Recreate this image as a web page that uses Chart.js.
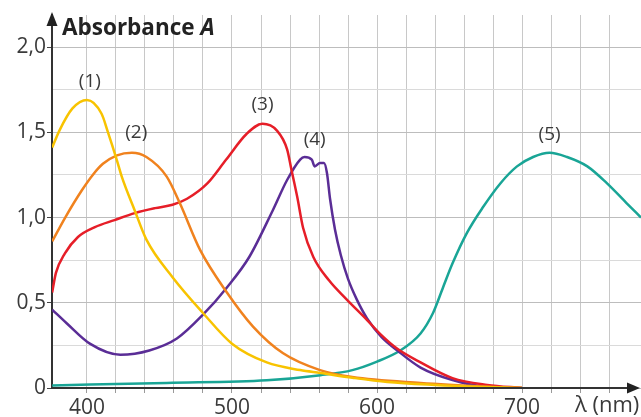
<!DOCTYPE html>
<html><head><meta charset="utf-8">
<script src="https://cdn.jsdelivr.net/npm/chart.js@4"></script>
<style>html,body{margin:0;padding:0;background:#fff}canvas{display:block}</style>
</head><body>
<canvas id="c" width="641" height="417"></canvas>
<script>
// ---- data (wavelength in nm, absorbance) ----
const wl1  = [376, 381, 390, 400, 410, 414.5, 420.5, 424, 433, 441, 459, 480, 500, 524, 547, 561, 583, 607, 640, 676, 700];
const abs1 = [1.41, 1.51, 1.64, 1.69, 1.61, 1.50, 1.34, 1.24, 1.04, 0.87, 0.65, 0.44, 0.26, 0.15, 0.105, 0.088, 0.06, 0.035, 0.018, 0.006, 0];

const wl2  = [376, 385, 396.5, 404, 411, 420.7, 431, 441, 455, 464, 478, 496.5, 514.5, 535, 560.7, 583, 630, 676, 700];
const abs2 = [0.86, 1.00, 1.16, 1.25, 1.315, 1.365, 1.38, 1.355, 1.24, 1.085, 0.81, 0.56, 0.36, 0.205, 0.105, 0.065, 0.03, 0.008, 0];

const wl3  = [376, 378.6, 384.8, 393.8, 405.5, 419, 433, 447, 459, 469, 483, 496, 510, 521, 531, 538, 541, 545, 549, 556, 567, 579, 593, 603, 614, 630, 652, 676, 700];
const abs3 = [0.56, 0.675, 0.79, 0.886, 0.944, 0.985, 1.026, 1.055, 1.075, 1.11, 1.20, 1.34, 1.49, 1.55, 1.51, 1.40, 1.28, 1.12, 0.94, 0.77, 0.63, 0.52, 0.40, 0.31, 0.23, 0.15, 0.058, 0.018, 0];

const wl4  = [376, 386, 402, 423, 443, 462, 480, 496.5, 512, 528, 538, 547, 550, 555, 557, 560.7, 563.4, 565.5, 567.6, 571, 575, 580, 586, 593, 603, 614, 630, 652, 676, 700];
const abs4 = [0.46, 0.38, 0.26, 0.195, 0.22, 0.29, 0.43, 0.59, 0.77, 1.04, 1.22, 1.34, 1.355, 1.34, 1.30, 1.32, 1.32, 1.26, 1.11, 0.93, 0.78, 0.64, 0.52, 0.41, 0.30, 0.22, 0.12, 0.047, 0.006, 0];

const wl5  = [376, 455, 524, 561, 583, 600, 616, 630, 638.6, 645.5, 652, 662, 673, 685, 696.5, 707.6, 719, 731, 745, 758.6, 772, 782];
const abs5 = [0.015, 0.03, 0.045, 0.075, 0.105, 0.155, 0.22, 0.32, 0.44, 0.59, 0.73, 0.91, 1.06, 1.20, 1.30, 1.355, 1.38, 1.355, 1.30, 1.20, 1.085, 1.00];

const seriesColors = ['#f8c300', '#f0821e', '#e61e28', '#5a2d96', '#19a596'];

const curveLabels = ['(1)', '(2)', '(3)', '(4)', '(5)'];
const labelWl  = [402, 434, 521, 557, 719];
const labelAbs = [1.795, 1.50, 1.66, 1.455, 1.484];

const xTickValues = [400, 500, 600, 700];
const yTickValues = [0, 0.5, 1, 1.5, 2];
const yTickTexts  = ['0', '0,5', '1,0', '1,5', '2,0'];

const yTitle = 'Absorbance ';
const yTitleItalic = 'A';
const xTitle = 'λ (nm)';

// ---- build datasets ----
const wls = [wl1, wl2, wl3, wl4, wl5];
const abss = [abs1, abs2, abs3, abs4, abs5];
const datasets = wls.map((w, i) => ({
  data: w.map((x, k) => ({x: x, y: abss[i][k]})),
  borderColor: seriesColors[i],
  borderWidth: 2.5,
  pointRadius: 0,
  fill: false,
  cubicInterpolationMode: 'monotone'
}));

const FONT = 'Open Sans';
const TXT = '#3a3a3a';

const decor = {
  id: 'decor',
  afterDraw(chart) {
    const {ctx, chartArea} = chart;
    const xs = chart.scales.x, ys = chart.scales.y;
    ctx.save();
    // x axis line and arrow
    ctx.strokeStyle = '#333'; ctx.lineWidth = 2;
    ctx.beginPath(); ctx.moveTo(chartArea.left, chartArea.bottom); ctx.lineTo(630, chartArea.bottom); ctx.stroke();
    ctx.fillStyle = '#222';
    ctx.beginPath(); ctx.moveTo(627, chartArea.bottom - 5.5); ctx.lineTo(640, chartArea.bottom); ctx.lineTo(627, chartArea.bottom + 5.5); ctx.closePath(); ctx.fill();
    // y arrow
    ctx.beginPath(); ctx.moveTo(chartArea.left - 5.5, 26); ctx.lineTo(chartArea.left, 12); ctx.lineTo(chartArea.left + 5.5, 26); ctx.closePath(); ctx.fill();
    // y title
    ctx.fillStyle = '#222';
    ctx.textBaseline = 'alphabetic'; ctx.textAlign = 'left';
    ctx.font = 'bold 22.5px "' + FONT + '"';
    ctx.fillText(yTitle, 62, 35);
    const w = ctx.measureText(yTitle).width;
    ctx.font = 'italic bold 22.5px "' + FONT + '"';
    ctx.fillText(yTitleItalic, 62 + w, 35);
    // x title
    ctx.fillStyle = TXT;
    ctx.font = '22px "' + FONT + '"';
    ctx.fillText(xTitle, 575, 412);
    // curve labels
    ctx.font = '19px "' + FONT + '"';
    ctx.textAlign = 'center'; ctx.textBaseline = 'middle';
    curveLabels.forEach((t, i) => {
      ctx.fillText(t, xs.getPixelForValue(labelWl[i]), ys.getPixelForValue(labelAbs[i]));
    });
    ctx.restore();
  }
};

const isMult = (v, s) => Math.abs(v / s - Math.round(v / s)) < 1e-6;

new Chart(document.getElementById('c').getContext('2d'), {
  type: 'line',
  data: {datasets},
  options: {
    responsive: false, animation: false, devicePixelRatio: 1,
    layout: {padding: {top: 15, right: 0, left: 0, bottom: 0}},
    plugins: {legend: {display: false}, tooltip: {enabled: false}},
    scales: {
      x: {
        type: 'linear', min: 375.9, max: 782,
        afterBuildTicks: ax => { ax.ticks = ax.ticks.filter(t => isMult(t.value, 20)); },
        afterFit: ax => { ax.height = 29; },
        ticks: {
          stepSize: 20, autoSkip: false, maxRotation: 0, padding: 2,
          callback: v => xTickValues.includes(v) ? String(v) : '',
          font: {family: FONT, size: 21}, color: TXT
        },
        grid: {color: '#c8c8c8', lineWidth: 1, tickLength: 5, tickColor: '#9a9a9a'},
        border: {display: false}
      },
      y: {
        type: 'linear', min: 0, max: 2.188,
        afterBuildTicks: ax => { ax.ticks = ax.ticks.filter(t => isMult(t.value, 0.25)); },
        afterFit: ax => { ax.width = 52; },
        ticks: {
          stepSize: 0.25, autoSkip: false, padding: 1,
          callback: v => { const k = yTickValues.findIndex(y => Math.abs(y - v) < 1e-6); return k >= 0 ? yTickTexts[k] : ''; },
          font: {family: FONT, size: 21}, color: TXT
        },
        grid: {
          color: c => isMult(c.tick.value, 0.5) ? '#bdbdbd' : '#dadada',
          lineWidth: 1, tickLength: 5,
          tickColor: c => isMult(c.tick.value, 0.5) ? '#444' : 'rgba(0,0,0,0)'
        },
        border: {display: true, color: '#333', width: 2}
      }
    }
  },
  plugins: [decor]
});
</script>
</body></html>
